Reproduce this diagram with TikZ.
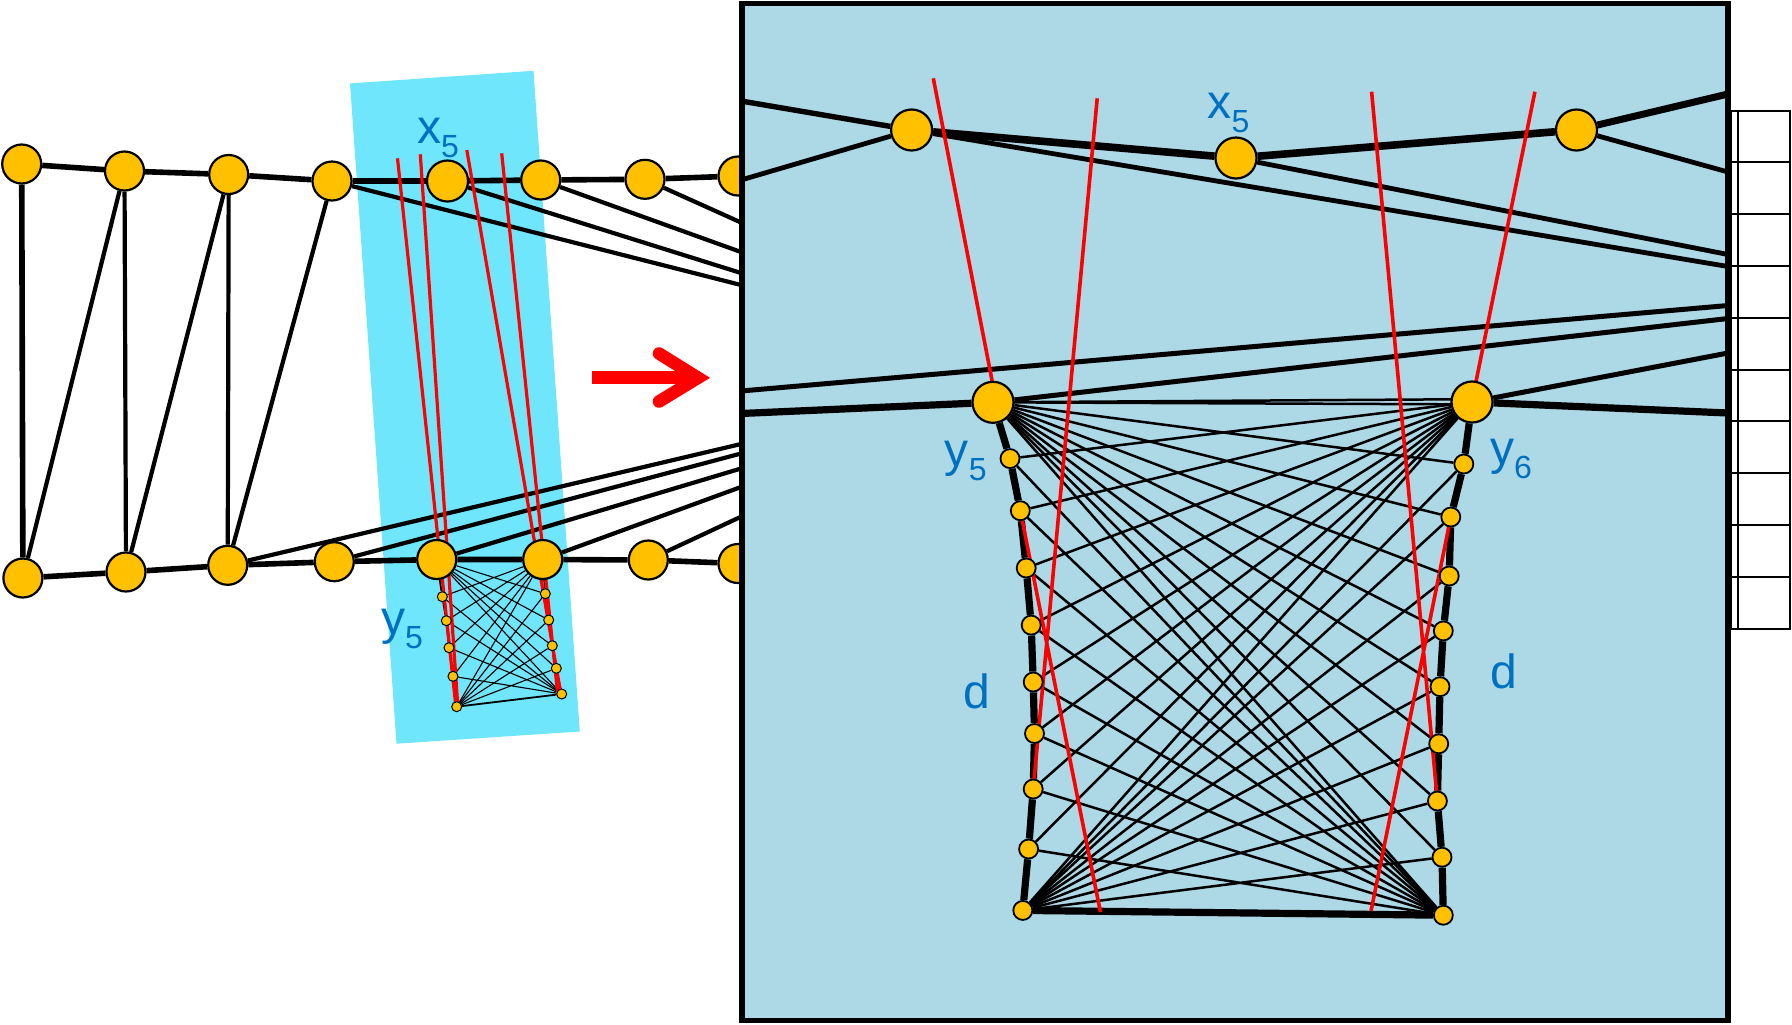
\documentclass[tikz,border=0pt]{standalone}
\usepackage{fontspec}
\setmainfont{Liberation Sans}
\definecolor{gold}{HTML}{FFC000}
\definecolor{labblue}{HTML}{0070C0}
\definecolor{panelblue}{RGB}{173,216,230}
\definecolor{cyanbox}{RGB}{112,230,252}
\pgfdeclarelayer{la}
\pgfdeclarelayer{lb}
\pgfdeclarelayer{lc}
\pgfdeclarelayer{ld}
\pgfsetlayers{la,lb,lc,ld,main}
\newcommand\mylab[2]{#1\raisebox{-7pt}{\fontsize{16}{16}\selectfont #2}}
\begin{document}
\begin{tikzpicture}[x=0.5pt,y=-0.5pt,
  gnode/.style={circle,draw=black,line width=1.1pt,fill=gold,inner sep=0pt,minimum size=19.5pt},
  pnode/.style={circle,draw=black,line width=1.1pt,fill=gold,inner sep=0pt,minimum size=20.5pt},
  mnode/.style={circle,draw=black,line width=0.9pt,fill=gold,inner sep=0pt,minimum size=9.5pt},
  snode/.style={circle,draw=black,line width=0.5pt,fill=gold,inner sep=0pt,minimum size=5pt},
  rowedge/.style={line width=2.8pt},
  vedge/.style={line width=2.1pt},
  pedge/.style={line width=2.1pt},
  redl/.style={draw=red,line width=1.8pt},
  sedge/.style={line width=0.55pt},
  schain/.style={line width=0.9pt},
  bchain/.style={line width=3.6pt,line join=round},
  bcross/.style={line width=1.25pt},
  lab/.style={text=labblue,font=\fontsize{24}{24}\selectfont,inner sep=0pt}
]
\useasboundingbox (0,0) rectangle (1792,1024);

% ---------------- left graph nodes ----------------
\begin{pgfonlayer}{lb}
\node[gnode] (t1) at (21.7,164) {};
\node[gnode] (t2) at (124.5,171) {};
\node[gnode] (t3) at (228.7,174.5) {};
\node[gnode] (t4) at (332,181) {};
\node[gnode,minimum size=20.5pt] (x5) at (447.5,181) {};
\node[gnode] (t6) at (540.7,180) {};
\node[gnode] (t7) at (645,179.3) {};
\node[gnode] (t8) at (738,176) {};
\node[gnode] (b1) at (22.9,578) {};
\node[gnode] (b2) at (126,572) {};
\node[gnode] (b3) at (227.7,565.3) {};
\node[gnode] (b4) at (334.3,561.7) {};
\node[gnode] (sL) at (436.7,559.5) {};
\node[gnode] (sR) at (542.7,559.5) {};
\node[gnode] (b7) at (648.3,560) {};
\node[gnode] (b8) at (738,563.5) {};
\node[snode] (sl1) at (442.3,596.7) {};
\node[snode] (sl2) at (446.3,620.7) {};
\node[snode] (sl3) at (449,647.7) {};
\node[snode] (sl4) at (453,676.3) {};
\node[snode] (sl5) at (456.7,706.7) {};
\node[snode] (sr1) at (545.3,593.7) {};
\node[snode] (sr2) at (548.7,620) {};
\node[snode] (sr3) at (552.3,645.7) {};
\node[snode] (sr4) at (556.3,668.3) {};
\node[snode] (sr5) at (561.7,694) {};
\end{pgfonlayer}

% ---------------- left graph edges ----------------
\begin{pgfonlayer}{la}
\fill[cyanbox] (350,83.4) -- (533.5,70.8) -- (579.8,731.5) -- (396.5,743.7) -- cycle;
\draw[rowedge] (t1)--(t2)--(t3)--(t4)--(x5)--(t6)--(t7)--(t8);
\draw[rowedge] (b1)--(b2)--(b3)--(b4)--(sL)--(sR)--(b7)--(b8);
\draw[rowedge] (t1)--(b1);
\draw[vedge] (t2)--(b2) (t3)--(b3) (b1)--(t2) (b2)--(t3) (b3)--(t4);
\coordinate (q1) at (741,285);
\coordinate (q2) at (741,273);
\coordinate (q3) at (741,252);
\coordinate (q4) at (741,222.5);
\coordinate (q5) at (741,444);
\coordinate (q6) at (741,453.5);
\coordinate (q7) at (741,468.5);
\coordinate (q8) at (741,487);
\coordinate (q9) at (741,516.7);
\draw[pedge] (t4)--(q1) (x5)--(q2) (t6)--(q3) (t7)--(q4);
\draw[pedge] (b3)--(q5) (b4)--(q6) (sL)--(q7) (sR)--(q8) (b7)--(q9);
% small gadget
\draw[schain] (sL)--(sl1)--(sl2)--(sl3)--(sl4)--(sl5)--(sr5)--(sr4)--(sr3)--(sr2)--(sr1)--(sR);
\foreach \i in {1,...,4}{
  \draw[sedge] (sL)--(sr\i) (sl5)--(sr\i) (sR)--(sl\i) (sr5)--(sl\i);
}
\draw[sedge] (sL)--(sr5) (sR)--(sl5);
% red lines in left view
\coordinate (ra1) at (397.5,158.3);
\coordinate (ra2) at (420.3,154.3);
\coordinate (ra3) at (466.8,150);
\coordinate (ra4) at (501.7,153.3);
\coordinate (re1) at (455.5,703);
\coordinate (re2) at (457.5,702);
\coordinate (re3) at (560.5,692);
\coordinate (re4) at (557.5,692);
\draw[redl,line width=1.6pt] (ra1)--(re1) (ra2)--(re2) (ra3)--(re3) (ra4)--(re4);
% arrow
\fill[red] (592.3,371.4) rectangle (700,384.2);
\coordinate (ar1) at (659,353.5);
\coordinate (ar2) at (698,377.8);
\coordinate (ar3) at (659,401.5);
\draw[red,line width=6.3pt,line cap=round,miter limit=10] (ar1)--(ar2)--(ar3);
\end{pgfonlayer}

\node[lab] at (438,138) {\mylab{x}{5}};
\node[lab] at (402,629) {\mylab{y}{5}};

% ---------------- right column of boxes and panel ----------------
\begin{pgfonlayer}{lc}
\draw[line width=1pt] (1731,110.7) rectangle (1790,628.6);
\foreach \k in {1,...,9}{
  \draw[line width=1pt] (1731,{110.7+51.79*\k}) -- (1790,{110.7+51.79*\k});
}
\draw[line width=1pt] (1737.7,110.7) -- (1737.7,628.6);
\fill[panelblue] (741.7,3.4) rectangle (1728,1020.6);
\end{pgfonlayer}

% ---------------- panel nodes ----------------
\node[pnode] (n1) at (911.6,130) {};
\node[pnode] (n2) at (1236,158) {};
\node[pnode] (n3) at (1576.5,130) {};
\node[pnode] (y5) at (993,402.3) {};
\node[pnode] (y6) at (1472,402) {};
\node[mnode] (pl1) at (1010,458.6) {};
\node[mnode] (pl2) at (1020.3,510.7) {};
\node[mnode] (pl3) at (1026.2,568) {};
\node[mnode] (pl4) at (1031.2,625.1) {};
\node[mnode] (pl5) at (1033.2,682) {};
\node[mnode] (pl6) at (1034.5,733.5) {};
\node[mnode] (pl7) at (1033.2,789) {};
\node[mnode] (pl8) at (1028.6,849) {};
\node[mnode] (a9) at (1022.8,910.4) {};
\node[mnode] (pr1) at (1463.8,464) {};
\node[mnode] (pr2) at (1450.8,517) {};
\node[mnode] (pr3) at (1449.2,576) {};
\node[mnode] (pr4) at (1443.3,630.9) {};
\node[mnode] (pr5) at (1440,686.7) {};
\node[mnode] (pr6) at (1438.7,743.8) {};
\node[mnode] (pr7) at (1437.4,801) {};
\node[mnode] (pr8) at (1442,857.2) {};
\node[mnode] (b9) at (1443.3,915.2) {};

% ---------------- panel edges ----------------
\begin{pgfonlayer}{ld}
\coordinate (e1) at (741,101);
\coordinate (e2) at (1728,94);
\coordinate (e3) at (741,180);
\coordinate (e4) at (1728,266.5);
\coordinate (e5) at (1728,254.5);
\coordinate (e6) at (1728,172);
\coordinate (e7) at (741,391);
\coordinate (e8) at (1728,305.5);
\coordinate (e9) at (1728,318.5);
\coordinate (e10) at (1728,353);
\coordinate (e11) at (741,413.5);
\coordinate (e12) at (1728,413);
\coordinate (y6a) at (1452,399.3);
\coordinate (y6b) at (1452,404.3);
\draw[line width=2.7pt] (e1)--(n1);
\draw[line width=3.8pt] (n1)--(n2)--(n3);
\draw[line width=3.5pt] (n3)--(e2);
\draw[line width=2.4pt] (n1)--(e3) (n1)--(e4) (n2)--(e5) (n3)--(e6);
\draw[line width=2.5pt] (e7)--(e8) (y5)--(e9) (y6)--(e10);
\draw[line width=3.6pt] (e11)--(y5) (y6)--(e12);
\draw[bcross] (y5.center)--(y6a) (y5.center)--(y6b);
\draw[bchain] (y5)--(pl1)--(pl2)--(pl3)--(pl4)--(pl5)--(pl6)--(pl7)--(pl8)--(a9)--(b9)--(pr8)--(pr7)--(pr6)--(pr5)--(pr4)--(pr3)--(pr2)--(pr1)--(y6);
\foreach \i in {1,...,8}{
  \draw[bcross] (y5)--(pr\i) (a9)--(pr\i) (y6)--(pl\i) (b9)--(pl\i);
}
\draw[bcross] (y5)--(b9) (y6)--(a9);
% red lines in panel
\coordinate (pa1) at (933.3,78.3);
\coordinate (pa2) at (992.9,385);
\coordinate (pb1) at (1097.2,98.3);
\coordinate (pc1) at (1371.6,91.7);
\coordinate (pd1) at (1534.9,91.7);
\coordinate (pd2) at (1475.3,385);
\coordinate (pq2) at (1100.4,912);
\coordinate (ps2) at (1371,911);
\draw[redl] (pa1)--(pa2) (pb1)--(pl7.center) (pc1)--(pr7.center) (pd1)--(pd2)
  (pl2.center)--(pq2) (pr2.center)--(ps2);
\end{pgfonlayer}

\draw[line width=2.8pt] (741.7,3.4) rectangle (1728,1020.6);

\node[lab] at (1228.6,113.4) {\mylab{x}{5}};
\node[lab] at (965.7,461) {\mylab{y}{5}};
\node[lab] at (1511,459) {\mylab{y}{6}};
\node[lab] at (976.5,691) {d};
\node[lab] at (1504,671.5) {d};
\end{tikzpicture}
\end{document}
